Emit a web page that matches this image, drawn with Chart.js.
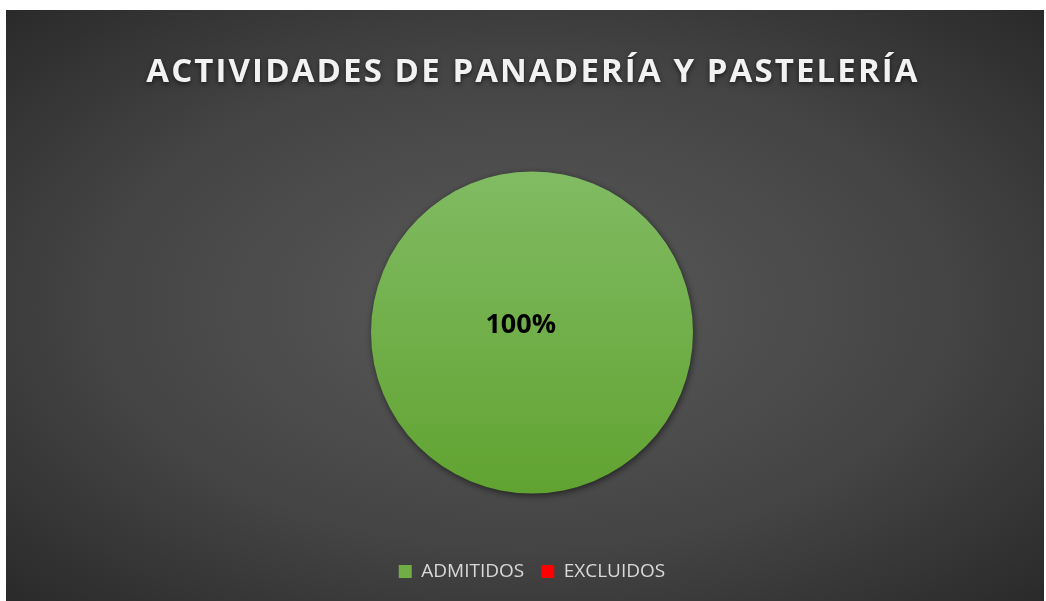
<!DOCTYPE html>
<html>
<head>
<meta charset="utf-8">
<script src="https://cdn.jsdelivr.net/npm/chart.js@4/dist/chart.umd.min.js"></script>
<style>
  html, body { margin: 0; padding: 0; background: #ffffff; }
  #wrap { position: absolute; left: 6px; top: 10px; width: 1038px; height: 591px; }
</style>
</head>
<body>
<div id="wrap"><canvas id="chart"></canvas></div>
<script>
var TITLE = "ACTIVIDADES DE PANADERÍA Y PASTELERÍA";
var CATEGORIES = ["ADMITIDOS", "EXCLUIDOS"];
var VALUES = [100, 0];
var PERCENT_LABELS = ["100%", ""];

// dark radial background, Office style
var backgroundPlugin = {
  id: 'bg',
  beforeDraw: function (chart) {
    var ctx = chart.ctx, w = chart.width, h = chart.height;
    ctx.save();
    ctx.translate(w / 2, h * 0.5);
    ctx.scale(w / h, 1);
    var g = ctx.createRadialGradient(0, 0, 0, 0, 0, h * 0.75);
    g.addColorStop(0, '#5a5a5a');
    g.addColorStop(0.55, '#444444');
    g.addColorStop(1, '#262626');
    ctx.fillStyle = g;
    ctx.fillRect(-w, -h, w * 2, h * 2);
    ctx.restore();

    // title with letter spacing
    ctx.save();
    ctx.font = 'bold 33px "Open Sans"';
    ctx.letterSpacing = '2.1px';
    ctx.fillStyle = '#f2f2f2';
    ctx.textAlign = 'center';
    ctx.textBaseline = 'middle';
    ctx.shadowColor = 'rgba(0,0,0,0.6)';
    ctx.shadowBlur = 5;
    ctx.shadowOffsetY = 2;
    ctx.fillText(TITLE, 527, 63);
    ctx.restore();
  },
  beforeDatasetDraw: function (chart) {
    var ctx = chart.ctx;
    ctx.save();
    ctx.shadowColor = 'rgba(0,0,0,0.55)';
    ctx.shadowBlur = 7;
    ctx.shadowOffsetX = 1;
    ctx.shadowOffsetY = 2;
  },
  afterDatasetDraw: function (chart) {
    chart.ctx.restore();
  },
  afterDatasetsDraw: function (chart) {
    var ctx = chart.ctx;
    var meta = chart.getDatasetMeta(0);
    meta.data.forEach(function (arc, i) {
      if (!PERCENT_LABELS[i]) return;
      var r = arc.outerRadius;
      ctx.save();
      ctx.font = 'bold 27px "Open Sans"';
      ctx.fillStyle = '#000000';
      ctx.textAlign = 'center';
      ctx.textBaseline = 'middle';
      ctx.fillText(PERCENT_LABELS[i], arc.x - r * 0.07, arc.y - r * 0.045);
      ctx.restore();
    });
  }
};

function sliceFill(context) {
  if (context.dataIndex === 1) return '#ff0000';
  var chart = context.chart;
  var arc = chart.getDatasetMeta(0).data[0];
  if (!chart.chartArea || !arc || !arc.outerRadius) return '#70ad47';
  var g = chart.ctx.createLinearGradient(0, arc.y - arc.outerRadius, 0, arc.y + arc.outerRadius);
  g.addColorStop(0, '#81bb63');
  g.addColorStop(1, '#61a331');
  return g;
}

var ctx = document.getElementById('chart').getContext('2d');
var chart = new Chart(ctx, {
  type: 'pie',
  data: {
    labels: CATEGORIES,
    datasets: [{
      data: VALUES,
      backgroundColor: sliceFill,
      borderWidth: 0
    }]
  },
  options: {
    responsive: true,
    maintainAspectRatio: false,
    animation: false,
    radius: 161,
    layout: { padding: { top: 110, left: 14, right: 0, bottom: 10 } },
    plugins: {
      tooltip: { enabled: false },
      legend: {
        position: 'bottom',
        labels: {
          color: '#d9d9d9',
          font: { family: 'Open Sans', size: 19 },
          boxWidth: 13,
          boxHeight: 13,
          padding: 17,
          generateLabels: function (chart) {
            return chart.data.labels.map(function (l, i) {
              return {
                text: l,
                fillStyle: i === 0 ? '#70ad47' : '#ff0000',
                strokeStyle: 'rgba(0,0,0,0)',
                lineWidth: 0,
                fontColor: '#d9d9d9',
                hidden: false,
                index: i
              };
            });
          }
        }
      }
    }
  },
  plugins: [backgroundPlugin]
});
chart.update();
</script>
</body>
</html>
